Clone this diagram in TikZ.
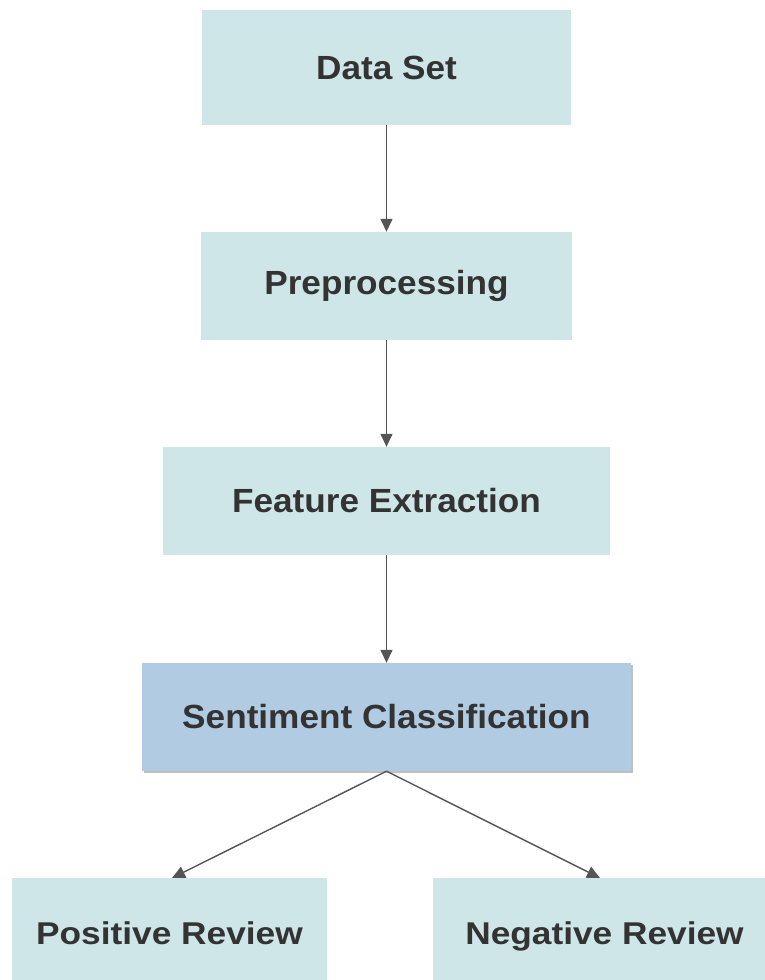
\documentclass[tikz,border=0pt]{standalone}
\usepackage{fontspec}
\setmainfont{Liberation Sans}
\usetikzlibrary{arrows.meta,shadows}
\definecolor{boxfill}{RGB}{207,230,232}
\definecolor{keyfill}{RGB}{176,203,226}
\definecolor{txt}{RGB}{51,51,51}
\definecolor{edge}{RGB}{85,85,85}
\tikzset{
  box/.style={rectangle, fill=boxfill, draw=none, inner sep=0pt, text=txt, font=\bfseries},
  keybox/.style={box, fill=keyfill, drop shadow={shadow xshift=1.5pt, shadow yshift=-2pt, opacity=0.25, fill=black}},
  link/.style={draw=edge, line width=1.4pt, -{Triangle[length=13pt,width=12pt]}},
}
\newcommand{\toptext}[1]{\scalebox{1.05}[1]{\fontsize{33.5}{40}\selectfont #1}}
\newcommand{\bottext}[1]{\raisebox{14pt}{\scalebox{1.12}[1]{\fontsize{31.5}{38}\selectfont #1}}}
\begin{document}
\begin{tikzpicture}[x=1pt,y=-1pt]
\useasboundingbox (0,0) rectangle (764,980);
\node[box, minimum width=369pt, minimum height=115pt] (ds) at (386.5,67.5) {\toptext{Data Set}};
\node[box, minimum width=371pt, minimum height=108pt] (pp) at (386.5,286) {\toptext{Preprocessing}};
\node[box, minimum width=447pt, minimum height=108pt] (fe) at (386.5,501) {\toptext{Feature Extraction}};
\node[keybox, minimum width=489pt, minimum height=108pt] (sc) at (386.5,717) {\toptext{Sentiment Classification}};
\node[box, minimum width=315pt, minimum height=124pt] (pos) at (169.5,940) {\bottext{Positive Review}};
\node[box, minimum width=343pt, minimum height=124pt] (neg) at (604.5,940) {\bottext{Negative Review}};
\coordinate (posin) at (172,878);
\coordinate (negin) at (600,878);
\draw[link] (ds) -- (pp);
\draw[link] (pp) -- (fe);
\draw[link] (fe) -- (sc);
\draw[link] (sc.south) -- (posin);
\draw[link] (sc.south) -- (negin);
\end{tikzpicture}
\end{document}
